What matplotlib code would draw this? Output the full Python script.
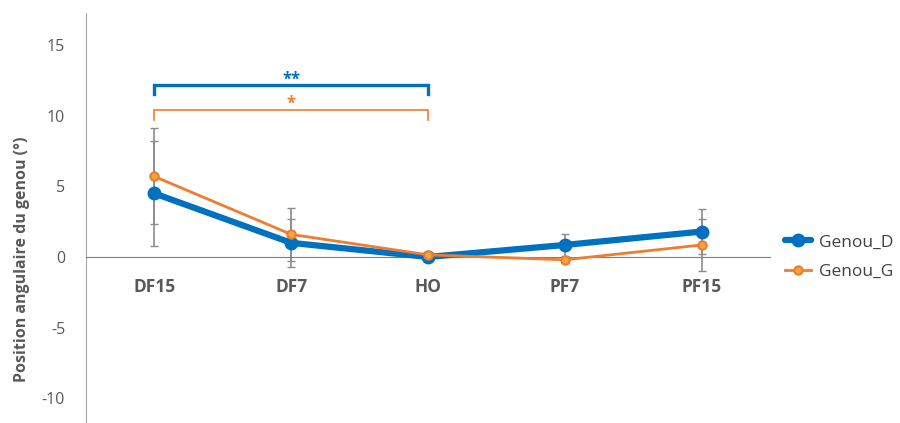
import matplotlib.pyplot as plt
import numpy as np

plt.rcParams['font.family'] = ['Open Sans', 'DejaVu Sans']
plt.rcParams['axes.unicode_minus'] = False

# data
categories = ['DF15', 'DF7', 'HO', 'PF7', 'PF15']
genou_d = [4.5, 1.0, 0.0, 0.85, 1.8]
genou_d_err = [3.7, 1.7, 0.2, 0.8, 1.6]
genou_g = [5.7, 1.6, 0.15, -0.2, 0.85]
genou_g_err = [3.4, 1.9, 0.2, 0.2, 1.85]

blue = '#0070C0'
orange = '#ED7D31'
grey = '#595959'

x = np.arange(len(categories))

fig = plt.figure(figsize=(9, 4.23), dpi=100)
ax = fig.add_axes([86 / 900, 0, (770 - 86) / 900, 1 - 13 / 423])

ax.errorbar(x, genou_d, yerr=genou_d_err, fmt='none', ecolor='#8c8c8c',
            elinewidth=1.2, capsize=3, capthick=1, zorder=2)
ax.errorbar(x, genou_g, yerr=genou_g_err, fmt='none', ecolor='#8c8c8c',
            elinewidth=1.2, capsize=3, capthick=1, zorder=2)

ax.plot(x, genou_d, color=blue, lw=4.5, marker='o', markersize=9,
        label='Genou_D', zorder=3, solid_capstyle='round')
ax.plot(x, genou_g, color=orange, lw=2, marker='o', markersize=6,
        markerfacecolor='#F4A53A', markeredgecolor=orange, markeredgewidth=1.5,
        label='Genou_G', zorder=4)

# significance brackets DF15 - HO
ax.plot([0, 0, 2, 2], [11.55, 12.2, 12.2, 11.55], color=blue, lw=2.4,
        solid_joinstyle='miter', clip_on=False)
ax.text(1, 12.55, '**', color=blue, ha='center', va='center',
        fontsize=12, fontweight='bold')
ax.plot([0, 0, 2, 2], [9.7, 10.4, 10.4, 9.7], color=orange, lw=1.2,
        solid_joinstyle='miter', clip_on=False)
ax.text(1, 10.85, '*', color=orange, ha='center', va='center',
        fontsize=12, fontweight='bold')

ax.set_xlim(-0.5, 4.5)
ax.set_ylim(-11.76, 17.28)
ax.set_yticks([-10, -5, 0, 5, 10, 15])
ax.set_xticks(x)
ax.set_xticklabels(categories)

ax.spines['top'].set_visible(False)
ax.spines['right'].set_visible(False)
ax.spines['bottom'].set_position(('data', 0))
ax.spines['bottom'].set_color('#7f7f7f')
ax.spines['left'].set_color('#a6a6a6')
ax.tick_params(axis='x', length=0, pad=15, labelsize=12.5, labelcolor=grey)
ax.tick_params(axis='y', length=0, pad=15, labelsize=11.5, labelcolor=grey)
for lab in ax.get_xticklabels():
    lab.set_fontweight('bold')

ax.set_ylabel('Position angulaire du genou (°)', fontsize=11.5,
              fontweight='bold', color=grey)
ax.yaxis.set_label_coords(-56 / 684, 0.4)

ax.legend(loc='center left', bbox_to_anchor=(0.9985, 0.405), frameon=False,
          fontsize=12.5, handlelength=1.5, handletextpad=0.5, labelspacing=0.75,
          labelcolor='#404040')

fig.savefig('out.png', dpi=100)
